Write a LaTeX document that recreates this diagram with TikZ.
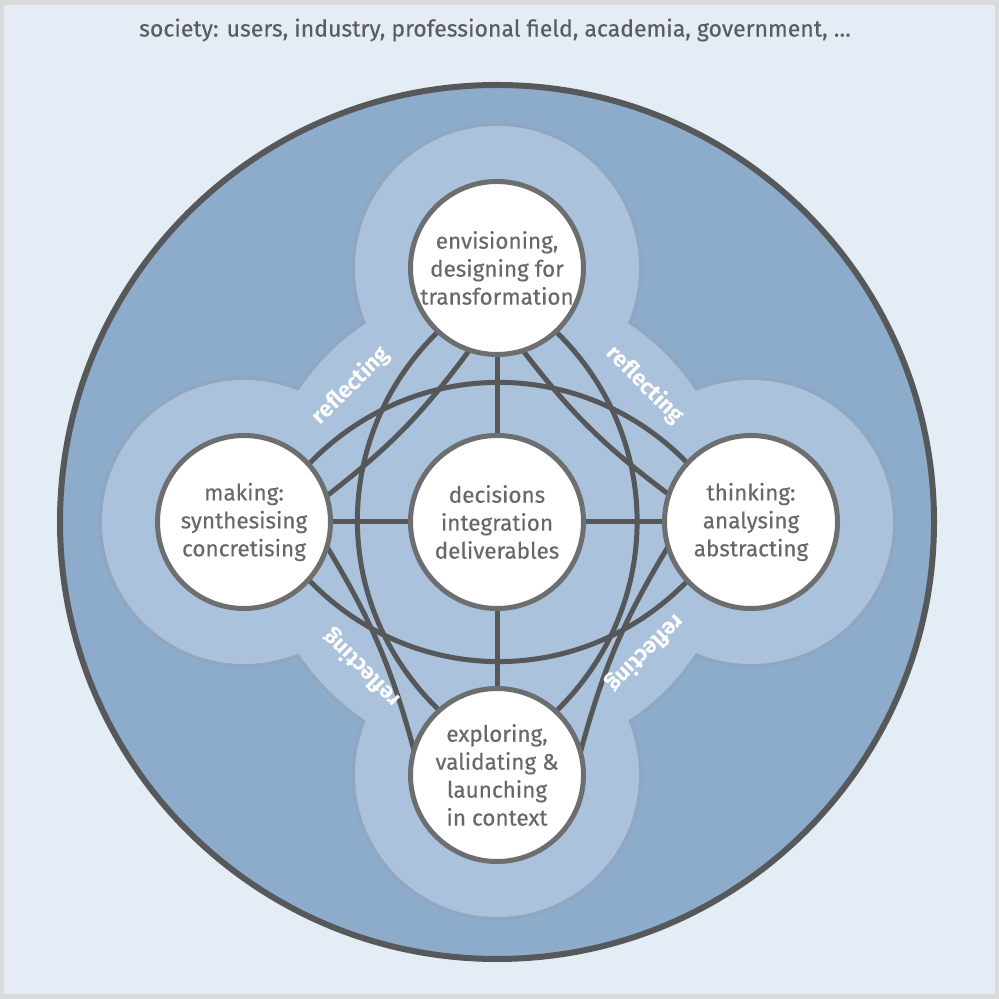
\documentclass[tikz,border=0pt]{standalone}
\usepackage{fontspec}
\setmainfont{Fira Sans}
\newfontfamily\heavyfont[FakeBold=0.3]{Fira Sans}
\pgfdeclarelayer{background}
\pgfdeclarelayer{conn}
\pgfsetlayers{background,conn,main}
\definecolor{framegray}{HTML}{D9DADC}
\definecolor{paper}{HTML}{E4ECF5}
\definecolor{outerblue}{HTML}{8DABCB}
\definecolor{bandblue}{HTML}{AAC2DB}
\definecolor{bandedge}{HTML}{90A7C1}
\definecolor{ringgray}{HTML}{57585A}
\definecolor{linegray}{HTML}{555759}
\definecolor{nodegray}{HTML}{6D6E70}
\definecolor{textgray}{HTML}{67686B}
\definecolor{soctext}{HTML}{5A5C5F}
\tikzset{
  stage/.style={circle, draw=nodegray, fill=white, line width=1mm, minimum size=34.6mm,
    inner sep=0pt, align=center, text=textgray, font=\heavyfont\fontsize{12.8pt}{15.9pt}\selectfont},
  link/.style={draw=linegray, line width=1mm, shorten <=-2mm, shorten >=-2mm},
  refl/.style={text=white, inner sep=0pt, font=\fontsize{12.8pt}{14pt}\selectfont\bfseries},
  bandline/.style={draw=bandedge, line width=1.4mm},
}
\begin{document}
\begin{tikzpicture}[x=0.2mm,y=0.2mm]
\useasboundingbox (0,0) rectangle (999,999);
\begin{pgfonlayer}{background}
  \fill[framegray] (0,0) rectangle (999,999);
  \fill[paper] (4,5) rectangle (995,994);
  \filldraw[fill=outerblue, draw=ringgray, line width=1.2mm] (497,477) circle[radius=437];
  \foreach \p in {(497,731),(244,477),(751,477),(497,224)}
    \draw[bandline] \p circle[radius=142];
  \draw[bandline] (497,477) circle[radius=238];
  \foreach \p in {(497,731),(244,477),(751,477),(497,224)}
    \fill[bandblue] \p circle[radius=142];
  \fill[bandblue] (497,477) circle[radius=238];
\end{pgfonlayer}

\node[text=soctext, font=\heavyfont\fontsize{13.1pt}{16pt}\selectfont] (soc) at (495,969)
  {society: users, industry, professional field, academia, government, \ldots};

\node[stage] (T) at (497,731) {envisioning,\\designing for\\transformation};
\node[stage] (L) at (244,477) {making:\\synthesising\\concretising};
\node[stage] (R) at (751,477) {thinking:\\analysing\\abstracting};
\node[stage] (C) at (497,477) {decisions\\integration\\deliverables};
\node[stage] (B) at (497,224) {exploring,\\validating \&\\launching\\in context};

\node[refl, rotate=45]  (r1) at (351,613) {reflecting};
\node[refl, rotate=-45] (r2) at (645,614) {reflecting};
\node[refl, rotate=135] (r3) at (362,331) {reflecting};
\node[refl, rotate=225] (r4) at (645,346) {reflecting};

\begin{pgfonlayer}{conn}
  \draw[link] (C) -- (T);
  \draw[link] (C) -- (L);
  \draw[link] (C) -- (R);
  \draw[link] (C) -- (B);
  \draw[link] (L.42.4) to[bend left=47.5] (R.137.6);
  \draw[link] (L.-42.4) to[bend right=47.5] (R.-137.6);
  \draw[link] (B.132.4) to[bend left=47.5] (T.227.6);
  \draw[link] (B.47.6) to[bend right=47.5] (T.-47.6);
  \draw[link] (T.251.4) to[bend left=8] (L.18.6);
  \draw[link] (L.-18.6) to[bend left=8] (B.161.4);
  \draw[link] (B.18.6) to[bend left=8] (R.198.6);
  \draw[link] (R.161.4) to[bend left=8] (T.288.6);
\end{pgfonlayer}
\end{tikzpicture}
\end{document}
